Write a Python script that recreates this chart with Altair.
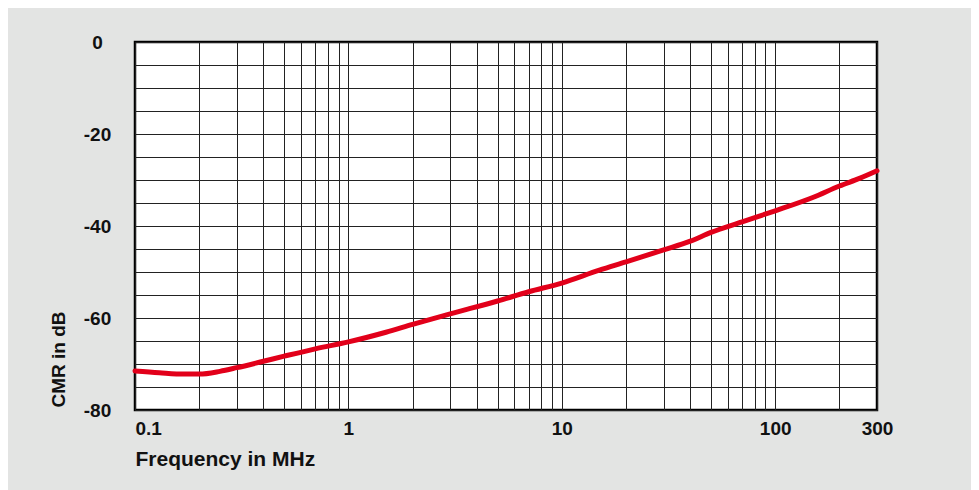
import altair as alt
import pandas as pd

# Curve values
freq_mhz = [0.1, 0.13, 0.17, 0.2, 0.25, 0.3, 0.4, 0.5, 0.7, 1, 1.5, 2, 3, 5, 7, 10,
            15, 20, 30, 40, 50, 70, 100, 150, 200, 250, 300]
cmr_db = [-71.5, -71.9, -72.2, -72.2, -71.6, -70.8, -69.4, -68.3, -66.7, -65.2, -63.1,
          -61.4, -59.1, -56.3, -54.3, -52.4, -49.6, -47.8, -45.2, -43.3, -41.4, -39.1,
          -36.7, -33.8, -31.3, -29.6, -28.0]

x_grid = [0.1, 0.2, 0.3, 0.4, 0.5, 0.6, 0.7, 0.8, 0.9,
          1, 2, 3, 4, 5, 6, 7, 8, 9,
          10, 20, 30, 40, 50, 60, 70, 80, 90,
          100, 200, 300]
x_labels = [0.1, 1, 10, 100, 300]
y_grid = list(range(-80, 1, 5))
y_labels = [-80, -60, -40, -20, 0]

df = pd.DataFrame({"f": freq_mhz, "cmr": cmr_db})

FONT = "Liberation Sans"

x_label_test = " || ".join(f"datum.value == {v}" for v in x_labels)
y_label_test = " || ".join(f"datum.value == {v}" for v in y_labels)

chart = alt.Chart(df).mark_line(
    color="#e2001a", strokeWidth=5, interpolate="monotone", strokeCap="round"
).encode(
    x=alt.X("f:Q",
            scale=alt.Scale(type="log", domain=[0.1, 300], nice=False),
            axis=alt.Axis(
                values=x_grid,
                labelExpr=f"({x_label_test}) ? '' + datum.value : ''",
                labelAlign=alt.expr("datum.value == 0.1 ? 'left' : 'center'"),
                labelBaseline="top",
                labelPadding=9,
                labelFontSize=19,
                labelFont=FONT,
                labelFontWeight="bold",
                labelColor="#111111",
                labelOverlap=False,
                labelBound=False,
                title="Frequency in MHz",
                titleFont=FONT,
                titleFontSize=21,
                titleFontWeight="bold",
                titleColor="#111111",
                titleAlign="left",
                titleAnchor="start",
                titleBaseline="alphabetic",
                titleX=0,
                titleY=55,
                ticks=False,
                tickSize=0,
                domain=False,
                grid=True,
                gridColor="#222222",
                gridWidth=1,
                gridOpacity=1,
            )),
    y=alt.Y("cmr:Q",
            scale=alt.Scale(domain=[-80, 0], nice=False, zero=False),
            axis=alt.Axis(
                values=y_grid,
                labelExpr=f"({y_label_test}) ? '' + datum.value : ''",
                labelAlign="center",
                labelBaseline="middle",
                labelPadding=38,
                labelFontSize=19,
                labelFont=FONT,
                labelFontWeight="bold",
                labelColor="#111111",
                labelOverlap=False,
                labelBound=False,
                labelFlush=False,
                title="CMR in dB",
                titleFont=FONT,
                titleFontSize=19,
                titleFontWeight="bold",
                titleColor="#111111",
                titleAngle=270,
                titleAlign="center",
                titleBaseline="middle",
                titleX=-77,
                titleY=317,
                ticks=False,
                tickSize=0,
                domain=False,
                grid=True,
                gridColor="#222222",
                gridWidth=1,
                gridOpacity=1,
            )),
).properties(
    width=742,
    height=368,
    background="#e3e4e3",
    padding={"left": 127, "top": 34, "right": 94, "bottom": 80},
    autosize=alt.AutoSizeParams(type="none"),
).configure_view(
    fill="white",
    stroke="black",
    strokeWidth=2.5,
)

chart.save("out.html", embed_options={"renderer": "svg", "actions": False})
